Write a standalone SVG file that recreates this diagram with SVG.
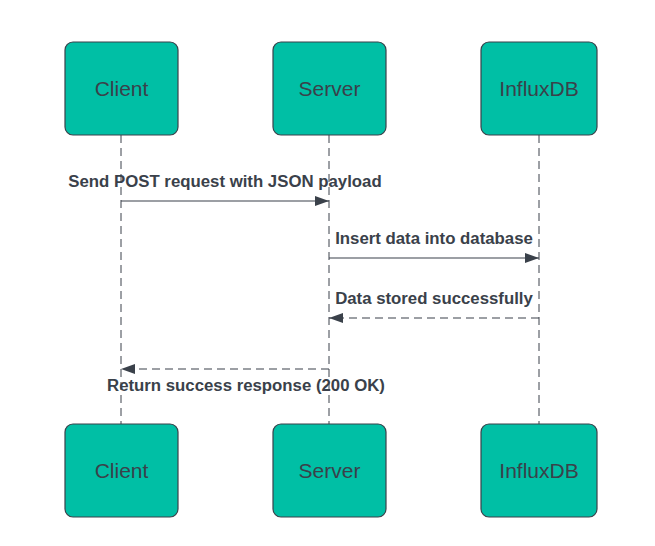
<svg xmlns="http://www.w3.org/2000/svg" width="655" height="546" viewBox="0 0 655 546">
<defs>
<style>
.box{fill:#00bfa5;stroke:#3a414a;stroke-width:1.2}
.lbl{font-family:"Liberation Sans",Arial,sans-serif;font-size:21px;fill:#3a414a;text-anchor:middle;dominant-baseline:central}
.life{stroke:#3a414a;stroke-width:1;stroke-dasharray:8,5;fill:none}
.msg{stroke:#3a414a;stroke-width:1.2;fill:none}
.ret{stroke:#3a414a;stroke-width:1.2;fill:none;stroke-dasharray:8,5}
.mt{font-family:"Liberation Sans",Arial,sans-serif;font-size:16.8px;font-weight:bold;fill:#3a414a;text-anchor:middle}
</style>
<marker id="ah" viewBox="0 0 14 10" refX="14" refY="5" markerWidth="14" markerHeight="10" markerUnits="userSpaceOnUse" orient="auto">
<path d="M0,0 L14,5 L0,10 Z" fill="#3a414a"/>
</marker>
</defs>
<rect width="655" height="546" fill="#ffffff"/>
<g id="connectors">
<line class="life" x1="121" y1="135" x2="121" y2="424"/>
<line class="life" x1="329" y1="135" x2="329" y2="424"/>
<line class="life" x1="539" y1="135" x2="539" y2="424"/>
<line class="msg" x1="121" y1="201" x2="329" y2="201" marker-end="url(#ah)"/>
<text class="mt" x="225" y="187">Send POST request with JSON payload</text>
<line class="msg" x1="329" y1="258" x2="539" y2="258" marker-end="url(#ah)"/>
<text class="mt" x="434" y="244">Insert data into database</text>
<line class="ret" x1="539" y1="318" x2="329" y2="318" marker-end="url(#ah)"/>
<text class="mt" x="434" y="304">Data stored successfully</text>
<line class="ret" x1="329" y1="369" x2="121" y2="369" marker-end="url(#ah)"/>
<text class="mt" x="246" y="391">Return success response (200 OK)</text>
</g>
<g id="client-top"><rect class="box" x="65" y="42" width="113" height="93" rx="8"/><text class="lbl" x="121.5" y="88">Client</text></g>
<g id="server-top"><rect class="box" x="273" y="42" width="113" height="93" rx="8"/><text class="lbl" x="329.5" y="88">Server</text></g>
<g id="influx-top"><rect class="box" x="481" y="42" width="116" height="93" rx="8"/><text class="lbl" x="539" y="88">InfluxDB</text></g>
<g id="client-bottom"><rect class="box" x="65" y="424" width="113" height="93" rx="8"/><text class="lbl" x="121.5" y="470">Client</text></g>
<g id="server-bottom"><rect class="box" x="273" y="424" width="113" height="93" rx="8"/><text class="lbl" x="329.5" y="470">Server</text></g>
<g id="influx-bottom"><rect class="box" x="481" y="424" width="116" height="93" rx="8"/><text class="lbl" x="539" y="470">InfluxDB</text></g>
</svg>
